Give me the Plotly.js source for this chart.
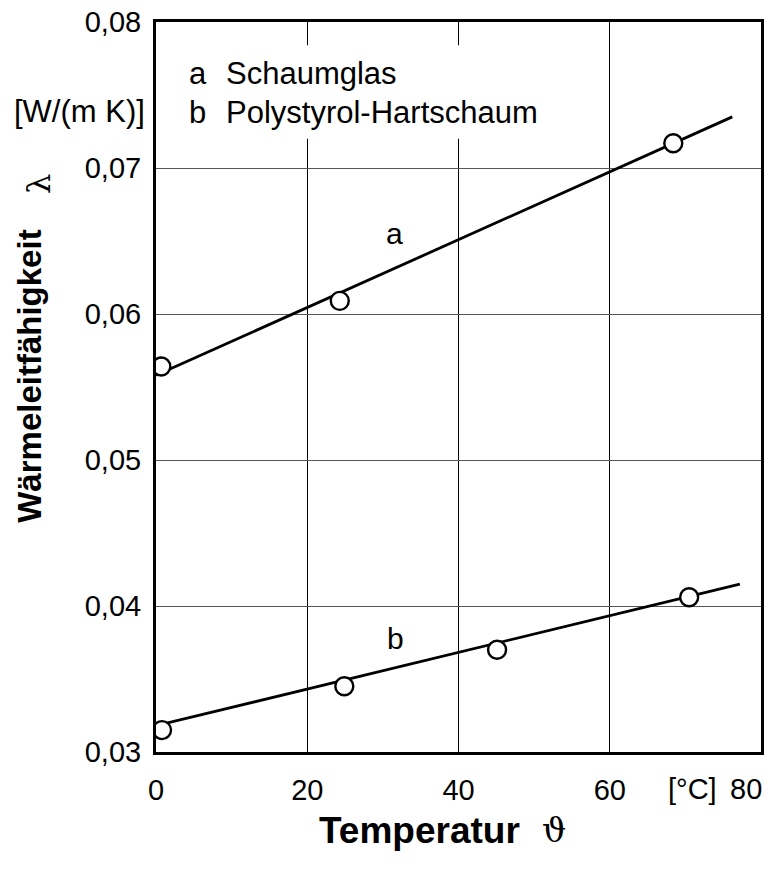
<!DOCTYPE html>
<html>
<head>
<meta charset="utf-8">
<script src="https://cdn.plot.ly/plotly-3.0.1.min.js"></script>
<style>body{margin:0;padding:0;background:#fff}</style>
</head>
<body>
<div id="chart" style="width:777px;height:875px"></div>
<script>
// Measured points
const aTemp = [0.7, 24.3, 68.4];
const aLambda = [0.0564, 0.0609, 0.0717];
const bTemp = [0.8, 24.9, 45.1, 70.5];
const bLambda = [0.0315, 0.0345, 0.0370, 0.0406];
// Regression lines
const aLineTemp = [0, 76.2];
const aLineLambda = [0.0558, 0.0735];
const bLineTemp = [0, 77.2];
const bLineLambda = [0.0318, 0.0415];
// Axis ticks
const xTicks = [0, 20, 40, 60, 80];
const xTickText = ["0", "20", "40", "60", ""];
const yTicks = [0.03, 0.04, 0.05, 0.06, 0.07, 0.08];
// Texts
const legendKeys = ["a", "b"];
const legendNames = ["Schaumglas", "Polystyrol-Hartschaum"];

const FONT = "Liberation Sans, Arial, sans-serif";

const lineStyle = {color: "#000", width: 2.8};
const markerStyle = {symbol: "circle", size: 18, color: "#fff", line: {color: "#000", width: 2.4}};

const traces = [
  {x: aLineTemp, y: aLineLambda, mode: "lines", line: lineStyle, showlegend: false, hoverinfo: "skip"},
  {x: bLineTemp, y: bLineLambda, mode: "lines", line: lineStyle, showlegend: false, hoverinfo: "skip"},
  {x: aTemp, y: aLambda, mode: "markers", marker: markerStyle, name: legendNames[0], showlegend: false},
  {x: bTemp, y: bLambda, mode: "markers", marker: markerStyle, name: legendNames[1], showlegend: false}
];

const txt = (size) => ({family: FONT, size: size, color: "#000"});

const annotations = [
  // legend
  {x: 4.1, y: 0.0765, xref: "x", yref: "y", text: legendKeys[0], showarrow: false, xanchor: "left", yanchor: "middle", font: txt(31)},
  {x: 9.0, y: 0.0765, xref: "x", yref: "y", text: legendNames[0], showarrow: false, xanchor: "left", yanchor: "middle", font: txt(31)},
  {x: 4.1, y: 0.0738, xref: "x", yref: "y", text: legendKeys[1], showarrow: false, xanchor: "left", yanchor: "middle", font: txt(31)},
  {x: 9.0, y: 0.0738, xref: "x", yref: "y", text: legendNames[1], showarrow: false, xanchor: "left", yanchor: "middle", font: txt(31)},
  // curve labels
  {x: 31.6, y: 0.0655, xref: "x", yref: "y", text: "a", showarrow: false, font: txt(30)},
  {x: 31.7, y: 0.0378, xref: "x", yref: "y", text: "b", showarrow: false, font: txt(30)},
  // units
  {x: 0, y: 0.0739, xref: "paper", yref: "y", text: "[W/(m K)]", showarrow: false, xanchor: "right", xshift: -9, font: txt(31)},
  {x: 70.9, y: 0, xref: "x", yref: "paper", text: "[°C]", showarrow: false, yanchor: "top", yshift: -19, font: txt(29)},
  {x: 78.0, y: 0, xref: "x", yref: "paper", text: "80", showarrow: false, yanchor: "top", yshift: -19, font: txt(29)},
  // axis titles
  {x: 0, y: 0.0557, xref: "paper", yref: "y", text: "<b>Wärmeleitfähigkeit</b>", textangle: -90, showarrow: false, xanchor: "center", yanchor: "middle", xshift: -126, font: {family: FONT, size: 33, color: "#000"}},
  {x: 0, y: 0.0689, xref: "paper", yref: "y", text: "λ", textangle: -90, showarrow: false, xanchor: "center", yanchor: "middle", xshift: -117, font: {family: "DejaVu Serif, serif", size: 32, color: "#000"}},
  {x: 34.8, y: 0, xref: "x", yref: "paper", text: "<b>Temperatur</b>", showarrow: false, xanchor: "center", yanchor: "middle", yshift: -78, font: {family: FONT, size: 37, color: "#000"}},
  {x: 52.6, y: 0, xref: "x", yref: "paper", text: "ϑ", showarrow: false, xanchor: "center", yanchor: "middle", yshift: -78, font: {family: "DejaVu Serif, serif", size: 34, color: "#000"}}
];

const layout = {
  width: 777, height: 875,
  margin: {l: 156, r: 16, t: 22, b: 123, pad: 0},
  paper_bgcolor: "#fff", plot_bgcolor: "#fff",
  separators: ",.",
  showlegend: false,
  font: {family: FONT, size: 29, color: "#000"},
  xaxis: {
    range: [0, 80], tickvals: xTicks, ticktext: xTickText,
    showgrid: true, gridcolor: "#000", gridwidth: 1,
    zeroline: false, showline: true, linecolor: "#000", linewidth: 3, mirror: true,
    ticks: "", ticklabelstandoff: 10, tickfont: {family: FONT, size: 29, color: "#000"}
  },
  yaxis: {
    range: [0.03, 0.08], tickvals: yTicks, tickformat: ".2f",
    showgrid: true, gridcolor: "#555", gridwidth: 1,
    zeroline: false, showline: true, linecolor: "#000", linewidth: 3, mirror: true,
    ticks: "", ticklabelstandoff: 6, tickfont: {family: FONT, size: 29, color: "#000"}
  },
  shapes: [
    {type: "rect", xref: "x", yref: "y", x0: 2, x1: 55, y0: 0.0720, y1: 0.0784, fillcolor: "#fff", line: {width: 0}, layer: "above"}
  ],
  annotations: annotations
};

Plotly.newPlot("chart", traces, layout, {displayModeBar: false, staticPlot: true});
</script>
</body>
</html>
